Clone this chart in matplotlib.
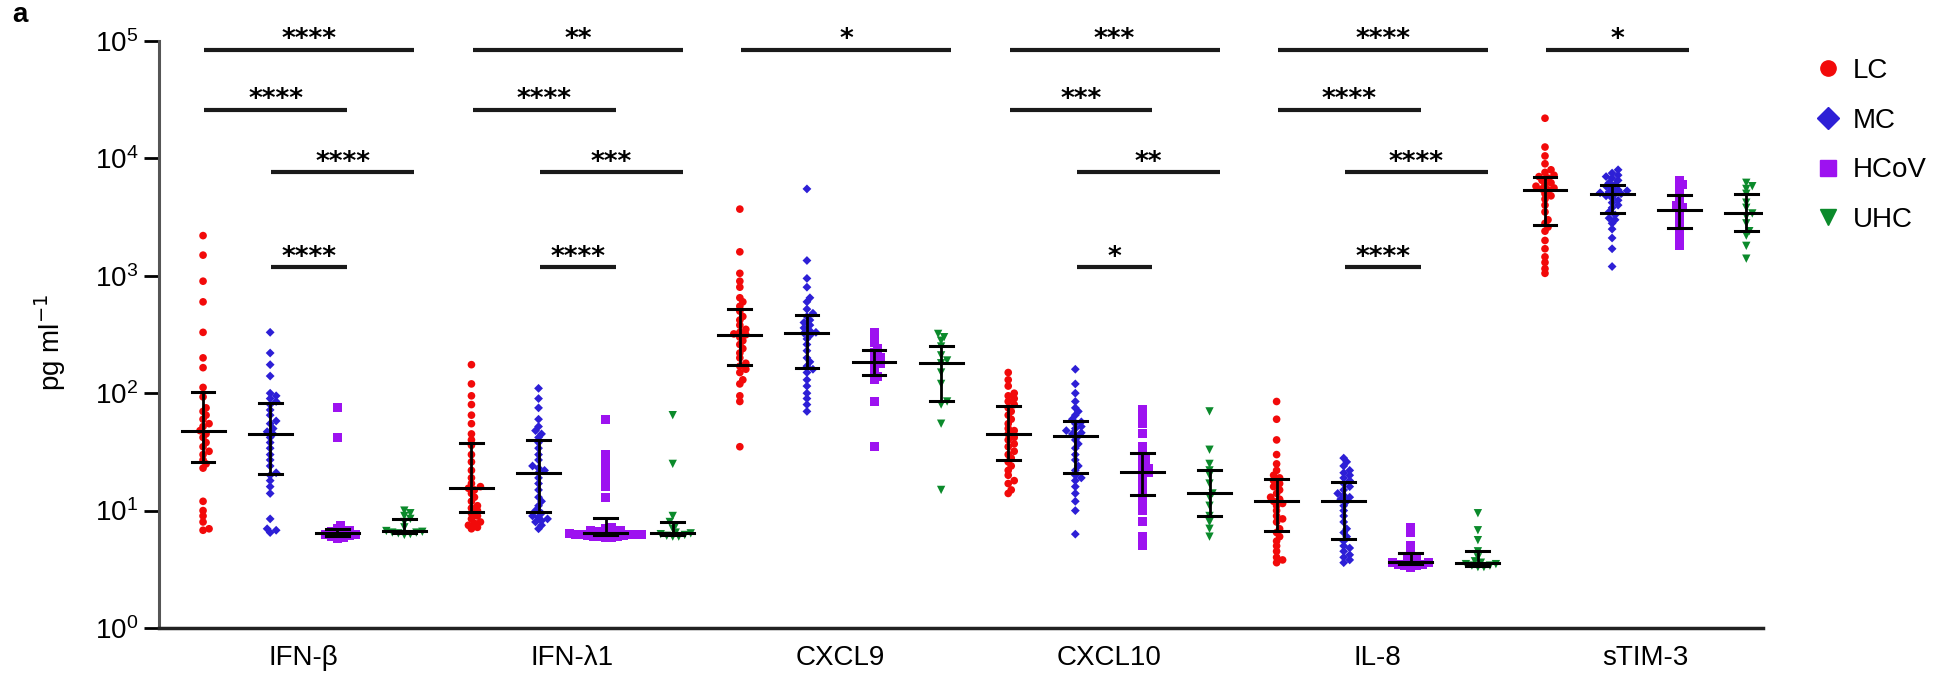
import numpy as np
import matplotlib
matplotlib.use('Agg')
import matplotlib.pyplot as plt
from matplotlib.lines import Line2D
from matplotlib.ticker import LogLocator, NullLocator

plt.rcParams['font.family'] = ['Liberation Sans', 'DejaVu Sans']

cytokines = ['IFN-β', 'IFN-λ1', 'CXCL9', 'CXCL10', 'IL-8', 'sTIM-3']
groups = ['LC', 'MC', 'HCoV', 'UHC']
colors = ['#f20a0a', '#2d1fd6', '#9d12f0', '#0b8a2b']
markers = ['o', 'D', 's', 'v']
marker_sizes = [5.5, 4.5, 6.5, 6]

# pg/ml values (LC, MC, HCoV, UHC for each cytokine)
ifnb_lc = [2200, 1500, 900, 600, 330, 200, 165, 112, 93, 75, 70, 65, 60, 55, 52, 48,
           45, 42, 38, 35, 32, 30, 27, 25, 23, 12, 10, 9, 8, 7, 6.8]
ifnb_mc = [330, 220, 175, 140, 100, 95, 90, 85, 80, 72, 65, 58, 55, 50, 47, 45,
           42, 38, 34, 30, 27, 24, 21, 20, 18, 16, 14, 8.5, 7, 6.8, 6.5]
ifnb_hcov = [75, 42, 7.5, 7.0, 6.8, 6.6, 6.5, 6.4, 6.3, 6.2, 6.1, 6.0, 5.9, 5.8]
ifnb_uhc = [10, 9.5, 9, 8.5, 8, 7.2, 6.7, 6.6, 6.5, 6.5, 6.4, 6.3, 6.2]

ifnl_lc = [175, 120, 95, 80, 65, 55, 45, 40, 36, 30, 26, 22, 19, 17, 16, 15.5,
           15, 14, 13, 12, 11, 10.5, 10, 9.5, 9, 8.5, 8, 7.8, 7.5, 7.2, 7]
ifnl_mc = [110, 90, 75, 60, 52, 48, 45, 42, 38, 34, 30, 27, 24, 23, 22, 21,
           19, 17, 15, 13, 12, 11, 10, 9.5, 9.0, 8.8, 8.5, 8.2, 8, 7.5, 7]
ifnl_hcov = [60, 30, 26, 22, 19, 16, 13, 7.2, 7.0, 6.8, 6.7, 6.6, 6.5, 6.5,
             6.4, 6.4, 6.3, 6.3, 6.3, 6.2, 6.2, 6.1, 6.1, 6.0, 6.0, 6.0, 5.9, 5.9]
ifnl_uhc = [65, 25, 9, 8, 7.5, 7, 6.5, 6.4, 6.3, 6.2, 6.1, 6.0, 6.0]

cxcl9_lc = [3700, 1600, 1050, 900, 800, 650, 600, 550, 500, 450, 420, 380, 350, 330, 320, 315,
            300, 280, 260, 240, 220, 200, 180, 170, 160, 150, 130, 120, 95, 85, 35]
cxcl9_mc = [5500, 1350, 950, 800, 650, 600, 520, 480, 450, 420, 400, 380, 360, 340, 330, 325,
            310, 290, 260, 230, 200, 185, 170, 160, 150, 130, 115, 100, 90, 80, 70]
cxcl9_hcov = [330, 300, 270, 240, 220, 200, 190, 180, 170, 150, 140, 130, 85, 35]
cxcl9_uhc = [320, 300, 280, 250, 210, 190, 180, 150, 120, 85, 80, 55, 15]

cxcl10_lc = [150, 130, 115, 100, 95, 90, 85, 80, 75, 70, 65, 60, 55, 50, 48, 45,
             42, 40, 37, 35, 32, 30, 28, 26, 24, 22, 20, 18, 17, 15, 14]
cxcl10_mc = [160, 120, 100, 85, 75, 70, 65, 60, 57, 55, 52, 50, 48, 46, 45, 43,
             40, 37, 34, 30, 27, 24, 22, 20, 19, 18, 16, 14, 12, 10, 6.3]
cxcl10_hcov = [72, 65, 55, 45, 35, 30, 27, 25, 23, 22, 21, 20, 18, 16, 14, 12, 10, 8, 6, 5]
cxcl10_uhc = [70, 33, 25, 22, 20, 17, 14, 13, 11, 9, 8, 7, 6]

il8_lc = [85, 60, 40, 30, 25, 22, 20, 19, 18, 17, 16, 15, 14, 13, 12.5, 12,
          11.5, 11, 10, 9, 8.5, 8, 7, 6.5, 6, 5.5, 5, 4.5, 4, 3.8, 3.6]
il8_mc = [28, 26, 24, 22, 21, 20, 19, 18, 17, 16, 15, 14, 13.5, 13, 12.5, 12,
          11, 10, 9, 8, 7, 6.5, 6, 5.5, 5, 4.8, 4.5, 4.2, 4, 3.8, 3.6]
il8_hcov = [7.2, 6.5, 5, 4.5, 4, 3.8, 3.7, 3.6, 3.6, 3.5, 3.5, 3.4, 3.4, 3.3]
il8_uhc = [9.5, 6.8, 5.6, 4.5, 4.0, 3.7, 3.6, 3.5, 3.5, 3.4, 3.4, 3.3, 3.3]

stim3_lc = [22000, 12500, 10500, 9000, 8000, 7600, 7200, 7000, 6800, 6500, 6200, 6000, 5800, 5600, 5500, 5400,
            5000, 4800, 4500, 4000, 3500, 3000, 2800, 2600, 2400, 2000, 1700, 1450, 1300, 1150, 1050]
stim3_mc = [8000, 7500, 7200, 7000, 6800, 6500, 6200, 6000, 5800, 5600, 5400, 5300, 5200, 5100, 5000, 5000,
            4800, 4600, 4400, 4200, 4000, 3800, 3500, 3300, 3100, 3000, 2800, 2500, 2100, 1700, 1200]
stim3_hcov = [6500, 6000, 5500, 5000, 4500, 4000, 3800, 3500, 3200, 2800, 2500, 2200, 2000, 1800]
stim3_uhc = [6200, 5800, 5500, 5000, 4200, 3800, 3400, 3200, 2800, 2400, 2200, 1800, 1400]

data = [
    [ifnb_lc, ifnb_mc, ifnb_hcov, ifnb_uhc],
    [ifnl_lc, ifnl_mc, ifnl_hcov, ifnl_uhc],
    [cxcl9_lc, cxcl9_mc, cxcl9_hcov, cxcl9_uhc],
    [cxcl10_lc, cxcl10_mc, cxcl10_hcov, cxcl10_uhc],
    [il8_lc, il8_mc, il8_hcov, il8_uhc],
    [stim3_lc, stim3_mc, stim3_hcov, stim3_uhc],
]

# significance bars: (cytokine index, group i, group j, row, label)
sig_rows = [8.4e4, 2.6e4, 7.6e3, 1.18e3]
sig_bars = [
    (0, 0, 3, 0, '****'), (0, 0, 2, 1, '****'), (0, 1, 3, 2, '****'), (0, 1, 2, 3, '****'),
    (1, 0, 3, 0, '**'), (1, 0, 2, 1, '****'), (1, 1, 3, 2, '***'), (1, 1, 2, 3, '****'),
    (2, 0, 3, 0, '*'),
    (3, 0, 3, 0, '***'), (3, 0, 2, 1, '***'), (3, 1, 3, 2, '**'), (3, 1, 2, 3, '*'),
    (4, 0, 3, 0, '****'), (4, 0, 2, 1, '****'), (4, 1, 3, 2, '****'), (4, 1, 2, 3, '****'),
    (5, 0, 2, 0, '*'),
]


def spread(vals, px_unit=67.1, px_decade=117.4, diam=6.0):
    # simple deterministic swarm so overlapping dots sit side by side
    vals = np.asarray(vals, dtype=float)
    ys = np.log10(vals) * px_decade
    offs = np.zeros(len(vals))
    placed = []
    step = diam * 0.5
    for idx in np.argsort(vals):
        for k in range(40):
            cand = ((k + 1) // 2) * step * (1 if k % 2 else -1)
            if all((cand - px) ** 2 + (ys[idx] - py) ** 2 >= (diam * 0.75) ** 2 for px, py in placed):
                break
        placed.append((cand, ys[idx]))
        offs[idx] = cand / px_unit
    return offs


fig = plt.figure(figsize=(19.49, 6.77), dpi=100)
ax = fig.add_axes([0.0816, 0.0724, 0.823, 0.867])

for ci, cyt in enumerate(data):
    for gi, vals in enumerate(cyt):
        x = 4 * ci + gi
        xs = x + spread(vals)
        ax.scatter(xs, vals, marker=markers[gi], s=marker_sizes[gi] ** 2,
                   color=colors[gi], edgecolors='none', zorder=3)
        q1, med, q3 = np.percentile(vals, [25, 50, 75])
        ax.plot([x, x], [q1, q3], color='black', lw=2, zorder=4)
        ax.plot([x - 0.17, x + 0.17], [q1, q1], color='black', lw=2.2, zorder=4)
        ax.plot([x - 0.17, x + 0.17], [q3, q3], color='black', lw=2.2, zorder=4)
        ax.plot([x - 0.32, x + 0.32], [med, med], color='black', lw=2.2, zorder=4)

for ci, i, j, row, label in sig_bars:
    x0 = 4 * ci + i + 0.02
    x1 = 4 * ci + j + 0.15
    y = sig_rows[row]
    ax.plot([x0, x1], [y, y], color='#1a1a1a', lw=3, solid_capstyle='butt', clip_on=False)
    ax.annotate(label, xy=((x0 + x1) / 2, y), xytext=(0, 2), textcoords='offset points',
                ha='center', va='baseline', fontsize=19, fontweight='bold',
                family='DejaVu Sans', annotation_clip=False)

ax.set_yscale('log')
ax.set_ylim(1, 1e5)
ax.set_xlim(-0.656, 23.25)
ax.yaxis.set_major_locator(LogLocator(base=10, numticks=10))
ax.yaxis.set_minor_locator(NullLocator())
ax.set_xticks([4 * i + 1.5 for i in range(len(cytokines))])
ax.set_xticklabels(cytokines)
ax.tick_params(axis='x', length=0, pad=12, labelsize=20)
ax.tick_params(axis='y', length=11, width=2, pad=4, labelsize=20)

for side in ['top', 'right']:
    ax.spines[side].set_visible(False)
ax.spines['left'].set_color('#555555')
ax.spines['left'].set_linewidth(2.2)
ax.spines['bottom'].set_color('#222222')
ax.spines['bottom'].set_linewidth(2.5)

fig.text(50 / 1949, 1 - 342 / 677, 'pg ml$^{-1}$', rotation=90, ha='center', va='center', fontsize=20)
fig.text(12 / 1949, 1 - 15 / 677, 'a', fontsize=20, fontweight='bold', ha='left', va='center')

handles = [Line2D([], [], marker=markers[i], color=colors[i], linestyle='none', markersize=11)
           for i in range(4)]
fig.legend(handles, groups, loc='upper left', bbox_to_anchor=(1814 / 1949, 1 - 58 / 677),
           frameon=False, fontsize=20, handlelength=1.0, handletextpad=0.4,
           labelspacing=0.85, borderpad=0, borderaxespad=0)

fig.savefig('out.png', dpi=100)
